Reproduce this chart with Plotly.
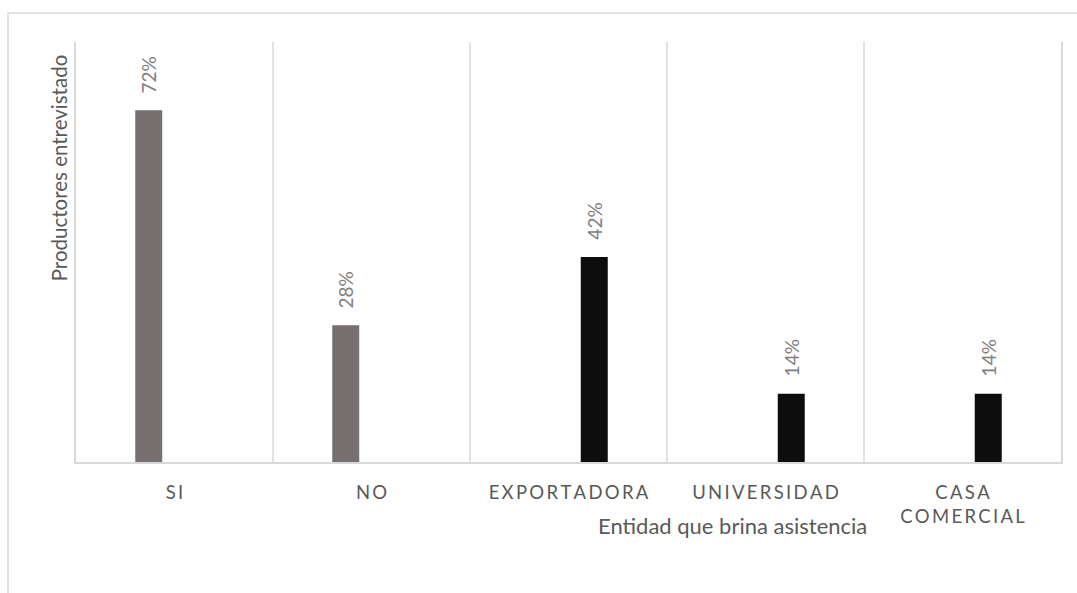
import plotly.graph_objects as go

# Categories and percentages
categorias = ["SI", "NO", "EXPORTADORA", "UNIVERSIDAD", "CASA<br>COMERCIAL"]
recibe_asistencia = [72, 28, None, None, None]      # grey series
entidad = [None, None, 42, 14, 14]                   # black series

THIN = "\u2009"


def espaciado(txt):
    # widen letter spacing of tick labels
    return "<br>".join(THIN.join(list(linea)) for linea in txt.split("<br>"))


etiquetas = [espaciado(c) for c in categorias]

GRIS = "#767170"
NEGRO = "#0d0d0d"
LINEA = "#d9d9d9"
FUENTE = "Lato"

BARGAP = 0.477
GROUPGAP = 0.476
SLOT = (1 - BARGAP) / 2  # width of each bar slot, in category units

fig = go.Figure()
fig.add_trace(go.Bar(x=list(range(len(categorias))), y=recibe_asistencia,
                     marker=dict(color=GRIS, line=dict(width=0)), showlegend=False))
fig.add_trace(go.Bar(x=list(range(len(categorias))), y=entidad,
                     marker=dict(color=NEGRO, line=dict(width=0)), showlegend=False))

# value labels above each bar, rotated
for serie, desplaz in ((recibe_asistencia, -SLOT / 2), (entidad, SLOT / 2)):
    for i, v in enumerate(serie):
        if v is None:
            continue
        fig.add_annotation(x=i + desplaz, y=v, xref="x", yref="y", text=f"{v}%",
                           textangle=-90, showarrow=False, yanchor="bottom",
                           xanchor="center", yshift=15,
                           font=dict(family=FUENTE, size=19, color="#808080"))

fig.add_annotation(text="Productores entrevistado", xref="paper", yref="paper",
                   x=-0.017, y=0.70, xanchor="center", yanchor="middle",
                   textangle=-90, showarrow=False,
                   font=dict(family=FUENTE, size=20.5, color="#595959"))
fig.add_annotation(text="Entidad que brina asistencia", xref="paper", yref="paper",
                   x=0.667, y=-0.15, xanchor="center", yanchor="middle",
                   showarrow=False,
                   font=dict(family=FUENTE, size=22, color="#595959"))

# chart frame
fig.add_shape(type="rect", xref="paper", yref="paper", x0=-0.069, x1=1.03,
              y0=-0.4, y1=1.069, line=dict(color=LINEA, width=1.5), layer="below")

fig.update_layout(
    width=1077, height=593,
    margin=dict(l=76, r=16, t=42, b=131),
    paper_bgcolor="white", plot_bgcolor="white",
    barmode="group", bargap=BARGAP, bargroupgap=GROUPGAP,
    xaxis=dict(type="linear", range=[-0.5, 4.5], tickmode="array",
               tickvals=list(range(len(categorias))), ticktext=etiquetas,
               showgrid=False, zeroline=False, showline=True, linecolor=LINEA,
               linewidth=1.5, ticks="", ticklabelstandoff=13,
               tickfont=dict(family=FUENTE, size=18.5, color="#595959")),
    yaxis=dict(range=[0, 86], showticklabels=False, showgrid=False, zeroline=False,
               showline=True, mirror=True, linecolor=LINEA, linewidth=1.5, ticks=""),
)

# category separators
for b in range(1, len(categorias)):
    fig.add_vline(x=b - 0.5, line=dict(color=LINEA, width=1.5), layer="below")

fig.write_html("out.html")
